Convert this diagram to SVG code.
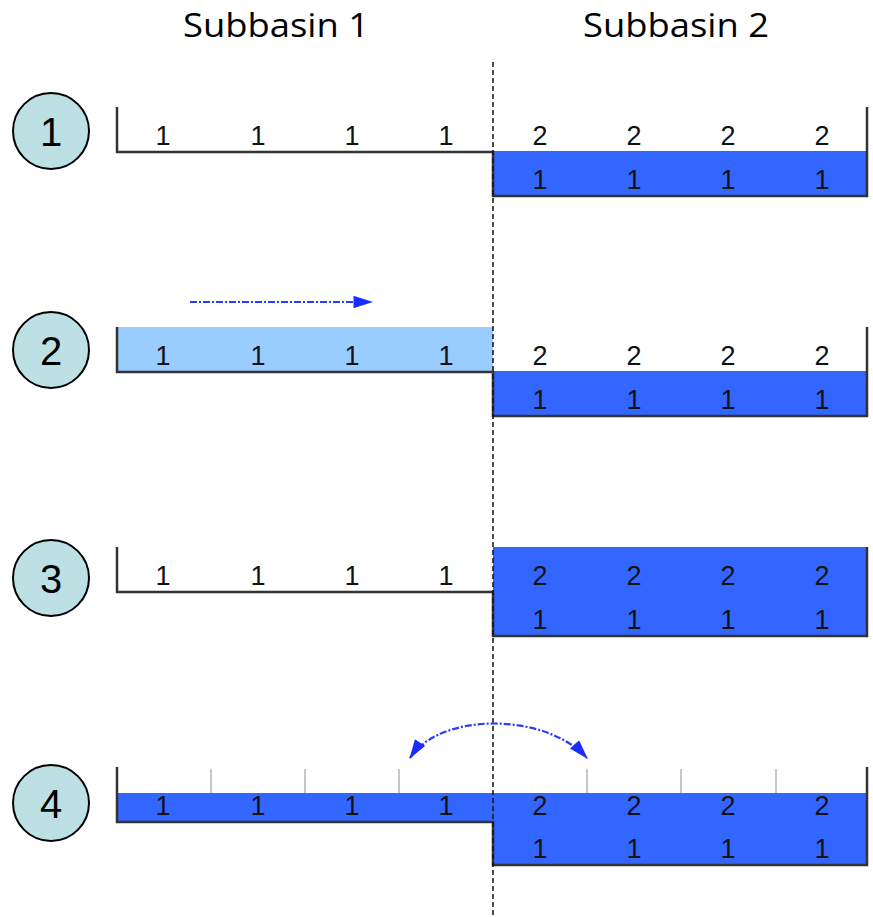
<svg xmlns="http://www.w3.org/2000/svg" width="873" height="917" viewBox="0 0 873 917">
<style>
.hdr{font-family:"Open Sans","Liberation Sans",Arial,sans-serif;font-size:32px;fill:#000;text-anchor:middle}
.num{font-family:"Liberation Sans",Arial,sans-serif;font-size:40px;fill:#000;text-anchor:middle}
.cell{font-family:"Liberation Sans",Arial,sans-serif;font-size:27px;fill:#111;text-anchor:middle}
.circ{fill:#BCE0E3;stroke:#000;stroke-width:2}
.wall{fill:none;stroke:#333;stroke-width:2.5}
.dark{fill:#3366FF}
.light{fill:#99CCFF}
.tick{stroke:#c8c8c8;stroke-width:2}
.flow{fill:none;stroke:#2a3cff;stroke-width:2.2;stroke-dasharray:7 2 2 2}
</style>
<defs>
<marker id="ah" viewBox="0 0 16 10" refX="15" refY="5" markerWidth="9" markerHeight="5.6" orient="auto-start-reverse" markerUnits="strokeWidth">
<path d="M0,0 L16,5 L0,10 Z" fill="#1a2cff"/>
</marker>
</defs>
<rect width="873" height="917" fill="#fff"/>
<text class="hdr" x="276" y="37" textLength="186" lengthAdjust="spacingAndGlyphs">Subbasin 1</text>
<text class="hdr" x="676" y="37" textLength="186" lengthAdjust="spacingAndGlyphs">Subbasin 2</text>

<g id="step1">
<circle class="circ" cx="51" cy="131" r="38"/>
<text class="num" x="51" y="146">1</text>
<rect class="dark" x="493" y="151" width="374" height="45"/>
<path class="wall" d="M117,107 V152 H493 V196 H867 V107"/>
<g class="cell">
<text x="163" y="145">1</text><text x="258" y="145">1</text><text x="352" y="145">1</text><text x="446" y="145">1</text>
<text x="540" y="145">2</text><text x="634" y="145">2</text><text x="728" y="145">2</text><text x="822" y="145">2</text>
<text x="540" y="189">1</text><text x="634" y="189">1</text><text x="728" y="189">1</text><text x="822" y="189">1</text>
</g>
</g>

<g id="step2">
<circle class="circ" cx="51" cy="350" r="38"/>
<text class="num" x="51" y="365">2</text>
<rect class="light" x="117" y="327" width="376" height="45"/>
<rect class="dark" x="493" y="371" width="374" height="45"/>
<path class="wall" d="M117,327 V372 H493 V416 H867 V327"/>
<g class="cell">
<text x="163" y="365">1</text><text x="258" y="365">1</text><text x="352" y="365">1</text><text x="446" y="365">1</text>
<text x="540" y="365">2</text><text x="634" y="365">2</text><text x="728" y="365">2</text><text x="822" y="365">2</text>
<text x="540" y="409">1</text><text x="634" y="409">1</text><text x="728" y="409">1</text><text x="822" y="409">1</text>
</g>
</g>

<g id="step3">
<circle class="circ" cx="51" cy="578" r="38"/>
<text class="num" x="51" y="593">3</text>
<rect class="dark" x="493" y="547" width="374" height="89"/>
<path class="wall" d="M117,547 V592 H493 V636 H867 V547"/>
<g class="cell">
<text x="163" y="585">1</text><text x="258" y="585">1</text><text x="352" y="585">1</text><text x="446" y="585">1</text>
<text x="540" y="585">2</text><text x="634" y="585">2</text><text x="728" y="585">2</text><text x="822" y="585">2</text>
<text x="540" y="629">1</text><text x="634" y="629">1</text><text x="728" y="629">1</text><text x="822" y="629">1</text>
</g>
</g>

<g id="step4">
<circle class="circ" cx="51" cy="803" r="38"/>
<text class="num" x="51" y="818">4</text>
<g class="tick">
<line x1="211" y1="769" x2="211" y2="793"/><line x1="305" y1="769" x2="305" y2="793"/><line x1="399" y1="769" x2="399" y2="793"/>
<line x1="587" y1="769" x2="587" y2="793"/><line x1="681" y1="769" x2="681" y2="793"/><line x1="776" y1="769" x2="776" y2="793"/>
</g>
<rect class="dark" x="117" y="793" width="376" height="29"/>
<rect class="dark" x="493" y="793" width="374" height="72"/>
<path class="wall" d="M117,767 V822 H493 V865 H867 V767"/>
<g class="cell">
<text x="163" y="815">1</text><text x="258" y="815">1</text><text x="352" y="815">1</text><text x="446" y="815">1</text>
<text x="540" y="815">2</text><text x="634" y="815">2</text><text x="728" y="815">2</text><text x="822" y="815">2</text>
<text x="540" y="858">1</text><text x="634" y="858">1</text><text x="728" y="858">1</text><text x="822" y="858">1</text>
</g>
</g>

<g id="connectors">
<line x1="493" y1="62" x2="493" y2="917" stroke="#111" stroke-width="1.5" stroke-dasharray="5 3"/>
<path class="flow" d="M190,302 H372" marker-end="url(#ah)"/>
<path class="flow" d="M410,758 C440,712 545,712 587,758" marker-start="url(#ah)" marker-end="url(#ah)"/>
</g>
</svg>
